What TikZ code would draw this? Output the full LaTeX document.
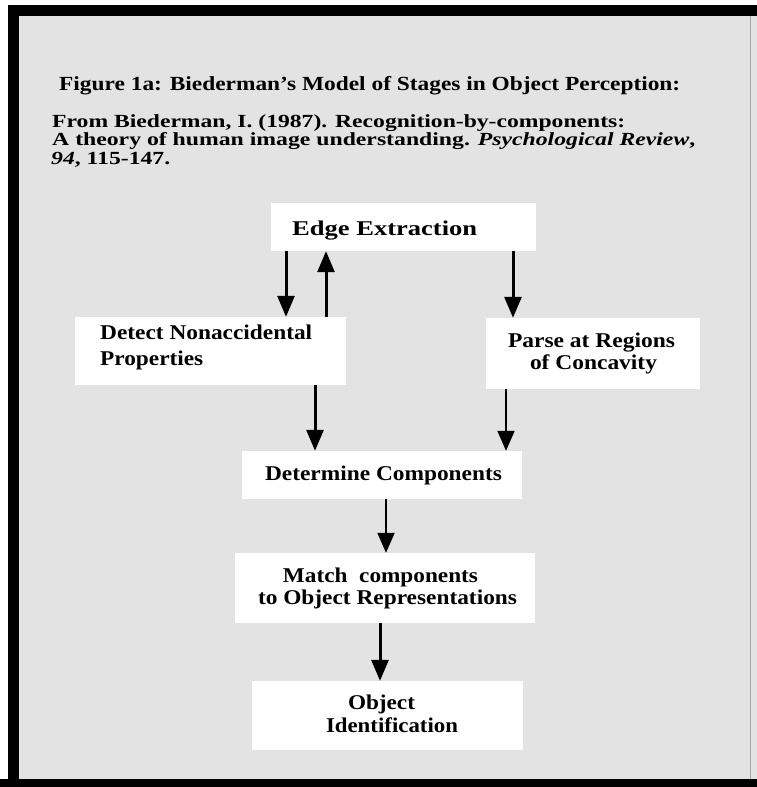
\documentclass[tikz,border=0pt]{standalone}
\usepackage{fontspec}
\setmainfont{Liberation Serif}
\usetikzlibrary{arrows.meta}
\definecolor{bg}{HTML}{E3E3E3}
\newcommand{\fitw}[2]{\resizebox{#1}{\height}{#2}}
\begin{document}
\begin{tikzpicture}[x=1pt,y=-1pt,
  box/.style={fill=white, draw=none, inner sep=0pt},
  txt/.style={inner sep=0pt, anchor=base west, font=\bfseries\fontsize{21}{21}\selectfont},
  ctxt/.style={inner sep=0pt, anchor=base, font=\bfseries\fontsize{21}{21}\selectfont},
  htxt/.style={inner sep=0pt, anchor=base west, font=\bfseries\fontsize{20}{20}\selectfont},
  rtxt/.style={inner sep=0pt, anchor=base west, font=\bfseries\fontsize{18.5}{18.5}\selectfont},
  thickarr/.style={line width=3pt, -{Triangle[width=17pt,length=21pt]}},
  thinarr/.style={line width=2pt, -{Triangle[width=17pt,length=20pt]}}]
\useasboundingbox (0,0) rectangle (757,787);
% frame
\fill[white] (0,0) rectangle (757,787);
\fill[bg] (8,5) rectangle (757,787);
\fill[black] (8,5) rectangle (757,16);
\fill[black] (8,5) rectangle (19,787);
\fill[black] (0,779) rectangle (757,787);
\draw[gray!70, line width=1pt] (750,16) -- (750,779);
% header
\node[htxt] (title) at (59,90) {\fitw{621pt}{Figure 1a: Biederman's Model of Stages in Object Perception:}};
\node[rtxt] (ref1) at (52,127) {\fitw{573pt}{From Biederman, I. (1987). Recognition-by-components:}};
\node[rtxt] (ref2) at (52,145.5) {\fitw{643pt}{A theory of human image understanding. \textit{Psychological Review},}};
\node[rtxt] (ref3) at (51,164) {\fitw{119pt}{\textit{94}, 115-147.}};
% boxes
\node[box, minimum width=265pt, minimum height=48pt] (edge) at (403.5,227) {};
\node[box, minimum width=271pt, minimum height=68pt] (detect) at (210.5,351) {};
\node[box, minimum width=214pt, minimum height=71pt] (parse) at (593,353.5) {};
\node[box, minimum width=280pt, minimum height=48pt] (determine) at (382,475) {};
\node[box, minimum width=300pt, minimum height=70pt] (match) at (385,588) {};
\node[box, minimum width=271pt, minimum height=69pt] (object) at (387.5,715.5) {};
% box texts
\node[txt] (edge-t) at (292,235) {\fitw{185pt}{Edge Extraction}};
\node[txt] (detect-t1) at (100,339) {\fitw{212pt}{Detect Nonaccidental}};
\node[txt] (detect-t2) at (100,365) {\fitw{103pt}{Properties}};
\node[ctxt] (parse-t1) at (591.5,347) {\fitw{167pt}{Parse at Regions}};
\node[ctxt] (parse-t2) at (593.5,369) {\fitw{127pt}{of Concavity}};
\node[ctxt] (determine-t) at (383.5,480) {\fitw{237pt}{Determine Components}};
\node[ctxt] (match-t1) at (380.5,582) {\fitw{195pt}{Match\ \ components}};
\node[ctxt] (match-t2) at (387.5,604) {\fitw{259pt}{to Object Representations}};
\node[ctxt] (object-t1) at (381.5,709) {\fitw{67pt}{Object}};
\node[ctxt] (object-t2) at (392,732) {\fitw{132pt}{Identification}};
% connector x positions
\coordinate (xa) at (286,0);
\coordinate (xb) at (326,0);
\coordinate (xc) at (513,0);
\coordinate (xd) at (315,0);
\coordinate (xe) at (506,0);
\coordinate (xf) at (386,0);
\coordinate (xg) at (380,0);
% connectors
\draw[thickarr] (edge.south -| xa) -- (detect.north -| xa);
\draw[thickarr] (detect.north -| xb) -- (edge.south -| xb);
\draw[thickarr] (edge.south -| xc) -- (parse.north -| xc);
\draw[thickarr] (detect.south -| xd) -- (determine.north -| xd);
\draw[thinarr] (parse.south -| xe) -- (determine.north -| xe);
\draw[thinarr] (determine.south -| xf) -- (match.north -| xf);
\draw[thickarr] (match.south -| xg) -- (object.north -| xg);
\end{tikzpicture}
\end{document}
